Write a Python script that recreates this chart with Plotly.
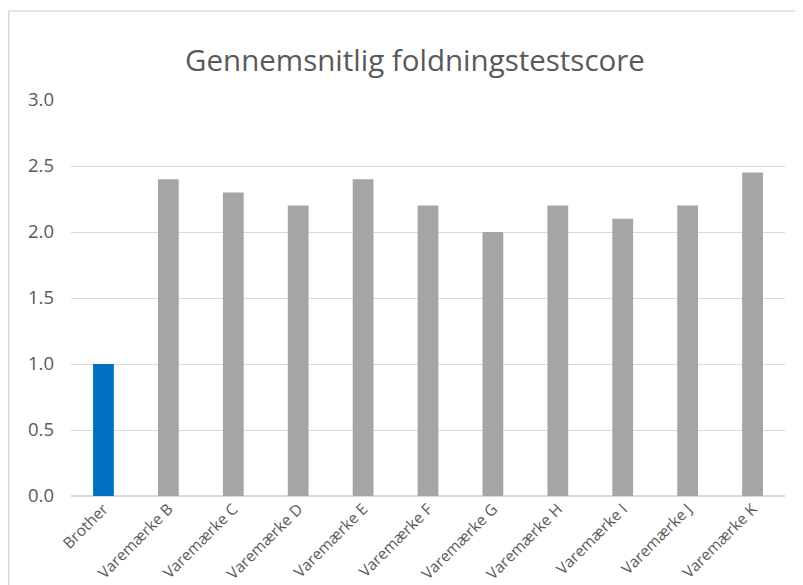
import plotly.graph_objects as go

categories = ["Brother", "Varemærke B", "Varemærke C", "Varemærke D", "Varemærke E",
              "Varemærke F", "Varemærke G", "Varemærke H", "Varemærke I", "Varemærke J",
              "Varemærke K"]
scores = [1.0, 2.4, 2.3, 2.2, 2.4, 2.2, 2.0, 2.2, 2.1, 2.2, 2.45]
colors = ["#0070C0"] + ["#A5A5A5"] * 10
y_ticks = [0.0, 0.5, 1.0, 1.5, 2.0, 2.5, 3.0]

fig = go.Figure(go.Bar(x=categories, y=scores, marker=dict(color=colors, line=dict(width=0)),
                       hoverinfo="x+y"))

W, H = 795, 577
L, R, T, B = 63, 18, 92, 89
PW, PH = W - L - R, H - T - B
fig.update_layout(
    width=W, height=H,
    margin=dict(l=L, r=R, t=T, b=B, autoexpand=False),
    paper_bgcolor="white", plot_bgcolor="white",
    bargap=0.68,
    font=dict(family="Open Sans", color="#595959"),
    title=dict(text="Gennemsnitlig foldningstestscore", x=(407 - L) / PW, xref="paper",
               xanchor="center", y=1 - 53 / H, yanchor="middle",
               font=dict(size=29.5, color="#595959", family="Open Sans")),
    xaxis=dict(tickangle=-45, tickfont=dict(size=15.5, color="#595959"),
               showgrid=False, showline=False, ticks=""),
    yaxis=dict(range=[0, 3.0], tickvals=y_ticks, ticktext=[f"{v:.1f}" for v in y_ticks],
               tickfont=dict(size=18.5, color="#595959"), gridcolor="#D9D9D9", gridwidth=1,
               zeroline=True, zerolinecolor="#D9D9D9", zerolinewidth=1.5,
               showline=False, ticks="", ticklen=0, ticklabelstandoff=16),
    shapes=[dict(type="rect", xref="paper", yref="paper",
                 x0=(0.75 - L) / PW, x1=1.2, y0=-0.5, y1=1 + (T - 3) / PH,
                 line=dict(color="#D9D9D9", width=1.5), fillcolor="rgba(0,0,0,0)", layer="below")],
)
fig.write_html("out.html")
